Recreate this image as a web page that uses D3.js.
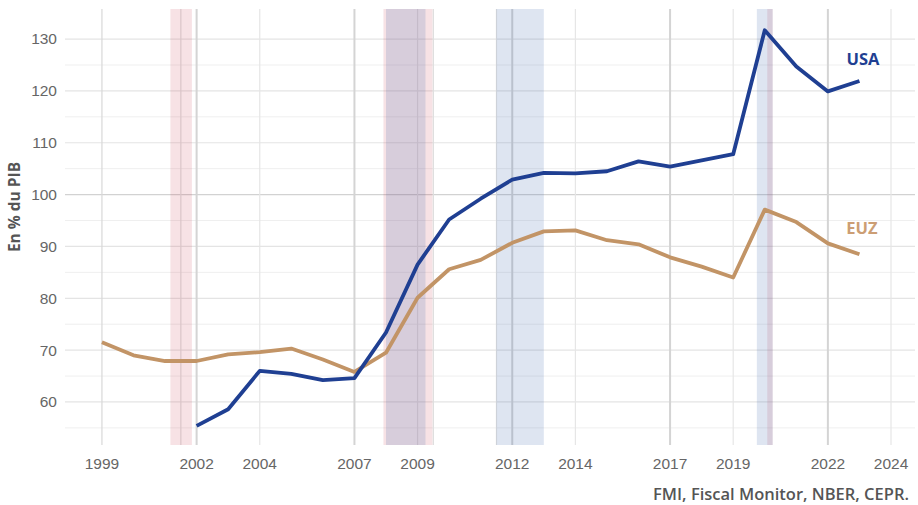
<!DOCTYPE html>
<html>
<head>
<meta charset="utf-8">
<script src="https://cdn.jsdelivr.net/npm/d3@7"></script>
<style>
	body { margin: 0; background: #ffffff; }
	.tickText { font-family: "Liberation Sans", Arial, sans-serif; font-size: 15.5px; fill: #666666; }
	.axisTitle { font-family: "Open Sans", sans-serif; font-size: 15.5px; font-weight: 700; fill: #555555; }
	.source { font-family: "Open Sans", sans-serif; font-size: 16.5px; font-weight: 600; fill: #555555; }
	.seriesLabel { font-family: "Open Sans", sans-serif; font-size: 16.5px; font-weight: 700; }
</style>
</head>
<body>
<div id="containerChart"></div>
<script>

// years for both series
var years = [1999, 2000, 2001, 2002, 2003, 2004, 2005, 2006, 2007, 2008, 2009, 2010, 2011,
	2012, 2013, 2014, 2015, 2016, 2017, 2018, 2019, 2020, 2021, 2022, 2023];

// debt in % of GDP, null where there is no value
var usa = [null, null, null, 55.4, 58.6, 66.0, 65.4, 64.2, 64.6, 73.4, 86.5, 95.2, 99.2,
	102.9, 104.2, 104.1, 104.5, 106.4, 105.4, 106.6, 107.8, 131.7, 124.7, 119.9, 121.9];
var euz = [71.5, 69.0, 67.9, 67.9, 69.2, 69.6, 70.3, 68.2, 65.8, 69.5, 80.1, 85.6, 87.4,
	90.7, 92.9, 93.1, 91.2, 90.4, 87.9, 86.1, 84.0, 97.1, 94.7, 90.6, 88.5];

// recession periods (start, end) in decimal years
var nberStart = [2001.17, 2007.92, 2020.08];
var nberEnd = [2001.85, 2009.47, 2020.25];
var ceprStart = [2008.0, 2011.5, 2019.75];
var ceprEnd = [2009.25, 2013.0, 2020.25];

// axis ticks
var xTicks = [1999, 2002, 2004, 2007, 2009, 2012, 2014, 2017, 2019, 2022, 2024];
var xTicksStrong = [2002, 2007, 2012, 2017, 2022];
var xExtraLines = [2001.5, 2009.5, 2011.5];
var yTicks = [60, 70, 80, 90, 100, 110, 120, 130];
var yMinor = [55, 65, 75, 85, 95, 105, 115, 125];

function drawChart() {

	// characteristics for SVG element
	var width = 918;
	var height = 505;
	var margin = {left: 65, top: 9, right: 3, bottom: 60};

	var svg = d3.select("#containerChart")
		.append("svg")
		.attr("width", width)
		.attr("height", height);

	// scales
	var xScale = d3.scaleLinear()
		.domain([1997.83, 2024.76])
		.range([margin.left, width - margin.right]);
	var yScale = d3.scaleLinear()
		.domain([51.7, 135.8])
		.range([height - margin.bottom, margin.top]);

	var top = margin.top;
	var bottom = height - margin.bottom;

	// horizontal grid lines
	svg.selectAll(".hMinor")
		.data(yMinor)
		.enter()
		.append("line")
		.attr("x1", margin.left)
		.attr("x2", width - margin.right)
		.attr("y1", function(d) { return yScale(d); })
		.attr("y2", function(d) { return yScale(d); })
		.style("stroke", "#efefef")
		.style("stroke-width", 1);
	svg.selectAll(".hMajor")
		.data(yTicks)
		.enter()
		.append("line")
		.attr("x1", margin.left)
		.attr("x2", width - margin.right)
		.attr("y1", function(d) { return yScale(d); })
		.attr("y2", function(d) { return yScale(d); })
		.style("stroke", function(d) {
			if (d == 100) { return "#d2d2d2"; }
			else { return "#e4e4e4"; }
		})
		.style("stroke-width", 1.2);

	// vertical grid lines
	svg.selectAll(".vExtra")
		.data(xExtraLines)
		.enter()
		.append("line")
		.attr("x1", function(d) { return xScale(d); })
		.attr("x2", function(d) { return xScale(d); })
		.attr("y1", top)
		.attr("y2", bottom)
		.style("stroke", "#dddddd")
		.style("stroke-width", 1.2);
	svg.selectAll(".vMajor")
		.data(xTicks)
		.enter()
		.append("line")
		.attr("x1", function(d) { return xScale(d); })
		.attr("x2", function(d) { return xScale(d); })
		.attr("y1", top)
		.attr("y2", bottom)
		.style("stroke", function(d) {
			if (xTicksStrong.indexOf(d) >= 0) { return "#d4d4d4"; }
			else if (d == 1999) { return "#d8d8d8"; }
			else { return "#e6e6e6"; }
		})
		.style("stroke-width", function(d) {
			if (xTicksStrong.indexOf(d) >= 0) { return 2; }
			else { return 1.2; }
		});

	// recession bands, nber in pink and cepr in blue on top
	svg.selectAll(".nber")
		.data(nberStart)
		.enter()
		.append("rect")
		.attr("x", function(d) { return xScale(d); })
		.attr("width", function(d, i) { return xScale(nberEnd[i]) - xScale(d); })
		.attr("y", top)
		.attr("height", bottom - top)
		.style("fill", "rgb(200, 60, 80)")
		.style("opacity", 0.15);
	svg.selectAll(".cepr")
		.data(ceprStart)
		.enter()
		.append("rect")
		.attr("x", function(d) { return xScale(d); })
		.attr("width", function(d, i) { return xScale(ceprEnd[i]) - xScale(d); })
		.attr("y", top)
		.attr("height", bottom - top)
		.style("fill", "rgb(70, 110, 180)")
		.style("opacity", 0.18);

	// lines
	var line = d3.line()
		.defined(function(d) { return d[1] != null; })
		.x(function(d) { return xScale(d[0]); })
		.y(function(d) { return yScale(d[1]); });

	svg.append("path")
		.datum(years.map(function(y, i) { return [y, euz[i]]; }))
		.attr("d", line)
		.style("fill", "none")
		.style("stroke", "#c29466")
		.style("stroke-width", 3.8)
		.style("stroke-linejoin", "round");
	svg.append("path")
		.datum(years.map(function(y, i) { return [y, usa[i]]; }))
		.attr("d", line)
		.style("fill", "none")
		.style("stroke", "#1f3f92")
		.style("stroke-width", 3.8)
		.style("stroke-linejoin", "round");

	// y axis labels
	svg.selectAll(".yLabel")
		.data(yTicks)
		.enter()
		.append("text")
		.attr("class", "tickText")
		.attr("x", margin.left - 8)
		.attr("y", function(d) { return yScale(d); })
		.attr("dy", "0.35em")
		.style("text-anchor", "end")
		.text(function(d) { return d; });

	// x axis labels
	svg.selectAll(".xLabel")
		.data(xTicks)
		.enter()
		.append("text")
		.attr("class", "tickText")
		.attr("x", function(d) { return xScale(d); })
		.attr("y", bottom + 19)
		.attr("dy", "0.35em")
		.style("text-anchor", "middle")
		.text(function(d) { return d; });

	// axis title
	svg.append("text")
		.attr("class", "axisTitle")
		.attr("transform", "rotate(-90)")
		.attr("x", -207)
		.attr("y", 15)
		.attr("dy", "0.35em")
		.style("text-anchor", "middle")
		.text("En % du PIB");

	// series labels
	svg.append("text")
		.attr("class", "seriesLabel")
		.attr("x", 863)
		.attr("y", 59)
		.attr("dy", "0.35em")
		.style("text-anchor", "middle")
		.style("fill", "#1f3f92")
		.text("USA");
	svg.append("text")
		.attr("class", "seriesLabel")
		.attr("x", 862)
		.attr("y", 228)
		.attr("dy", "0.35em")
		.style("text-anchor", "middle")
		.style("fill", "#cc9e74")
		.text("EUZ");

	// source
	svg.append("text")
		.attr("class", "source")
		.attr("x", 909)
		.attr("y", 494)
		.attr("dy", "0.35em")
		.style("text-anchor", "end")
		.text("FMI, Fiscal Monitor, NBER, CEPR.");
};

drawChart();
</script>
</body>
</html>
